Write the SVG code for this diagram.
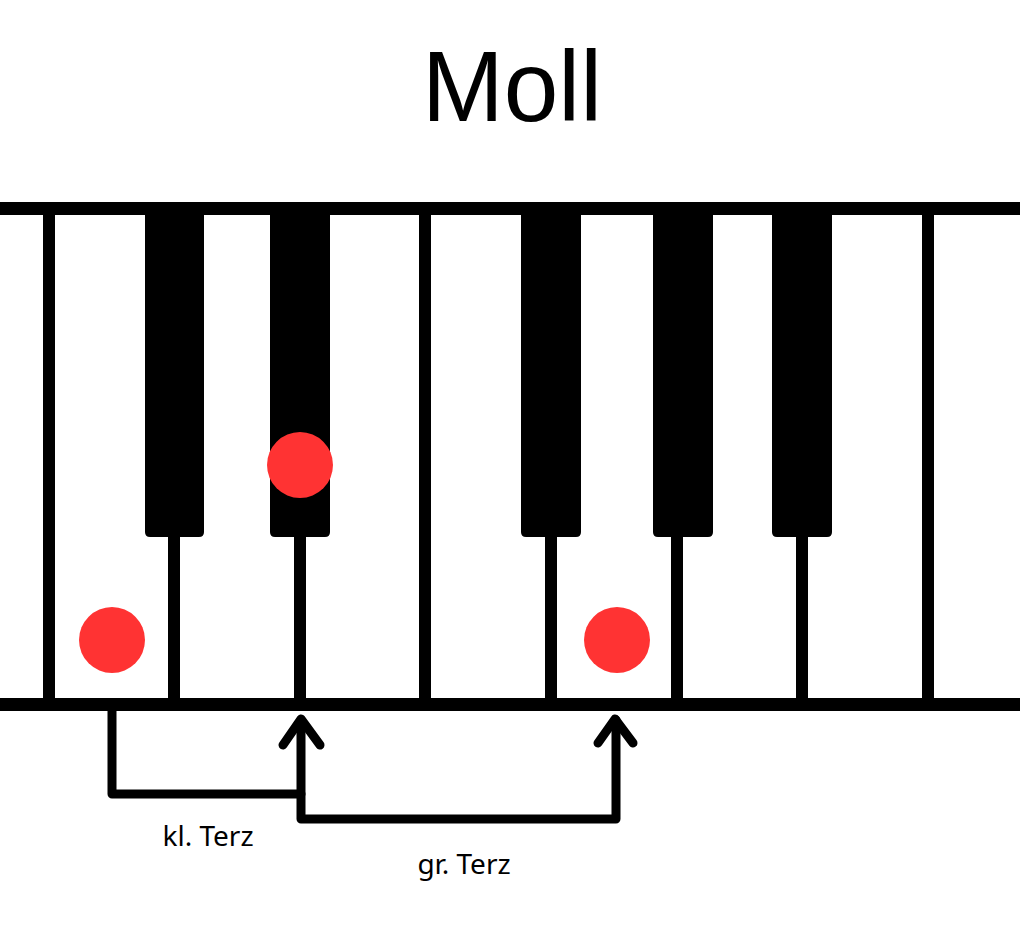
<svg xmlns="http://www.w3.org/2000/svg" width="1020" height="940" viewBox="0 0 1020 940">
<style>
.bar{fill:#000}
.sep{stroke:#000;stroke-width:12;fill:none}
.blk{fill:#000}
.dot{fill:#FF3333}
.con{stroke:#000;stroke-width:9;fill:none;stroke-linejoin:round;stroke-linecap:round}
.lbl{font-family:"Noto Sans","Open Sans",sans-serif;font-size:28px;fill:#000;text-anchor:middle}
</style>
<rect width="1020" height="940" fill="#fff"/>
<g id="title"><text x="512" y="121" font-family="Liberation Sans, Arial, sans-serif" font-size="100" text-anchor="middle" textLength="180" lengthAdjust="spacingAndGlyphs">Moll</text></g>
<g id="keyboard">
<rect class="bar" x="0" y="202" width="1020" height="13"/>
<rect class="bar" x="0" y="698" width="1020" height="13"/>
<line class="sep" x1="49" y1="210" x2="49" y2="702"/>
<line class="sep" x1="425" y1="210" x2="425" y2="702"/>
<line class="sep" x1="928" y1="210" x2="928" y2="702"/>
<line class="sep" x1="174" y1="530" x2="174" y2="702"/>
<line class="sep" x1="300" y1="530" x2="300" y2="702"/>
<line class="sep" x1="551" y1="530" x2="551" y2="702"/>
<line class="sep" x1="677" y1="530" x2="677" y2="702"/>
<line class="sep" x1="802" y1="530" x2="802" y2="702"/>
<path class="blk" d="M145,210 H204 V532 Q204,537 199,537 H150 Q145,537 145,532 Z"/>
<path class="blk" d="M270,210 H330 V532 Q330,537 325,537 H275 Q270,537 270,532 Z"/>
<path class="blk" d="M521,210 H581 V532 Q581,537 576,537 H526 Q521,537 521,532 Z"/>
<path class="blk" d="M653,210 H713 V532 Q713,537 708,537 H658 Q653,537 653,532 Z"/>
<path class="blk" d="M772,210 H832 V532 Q832,537 827,537 H777 Q772,537 772,532 Z"/>
</g>
<g id="dot-root"><circle class="dot" cx="112" cy="640" r="33"/></g>
<g id="dot-third"><circle class="dot" cx="300" cy="465" r="33"/></g>
<g id="dot-fifth"><circle class="dot" cx="617" cy="640" r="33"/></g>
<g id="connectors">
<path class="con" d="M112,711 V794 H301"/>
<path class="con" d="M301,720 V819 H616 V720"/>
<path class="con" d="M283,745 L301,719 L320,745"/>
<path class="con" d="M598,743 L615,719 L633,743"/>
</g>
<g id="label-kl"><text class="lbl" x="208" y="846">kl. Terz</text></g>
<g id="label-gr"><text class="lbl" x="464" y="874">gr. Terz</text></g>
</svg>
